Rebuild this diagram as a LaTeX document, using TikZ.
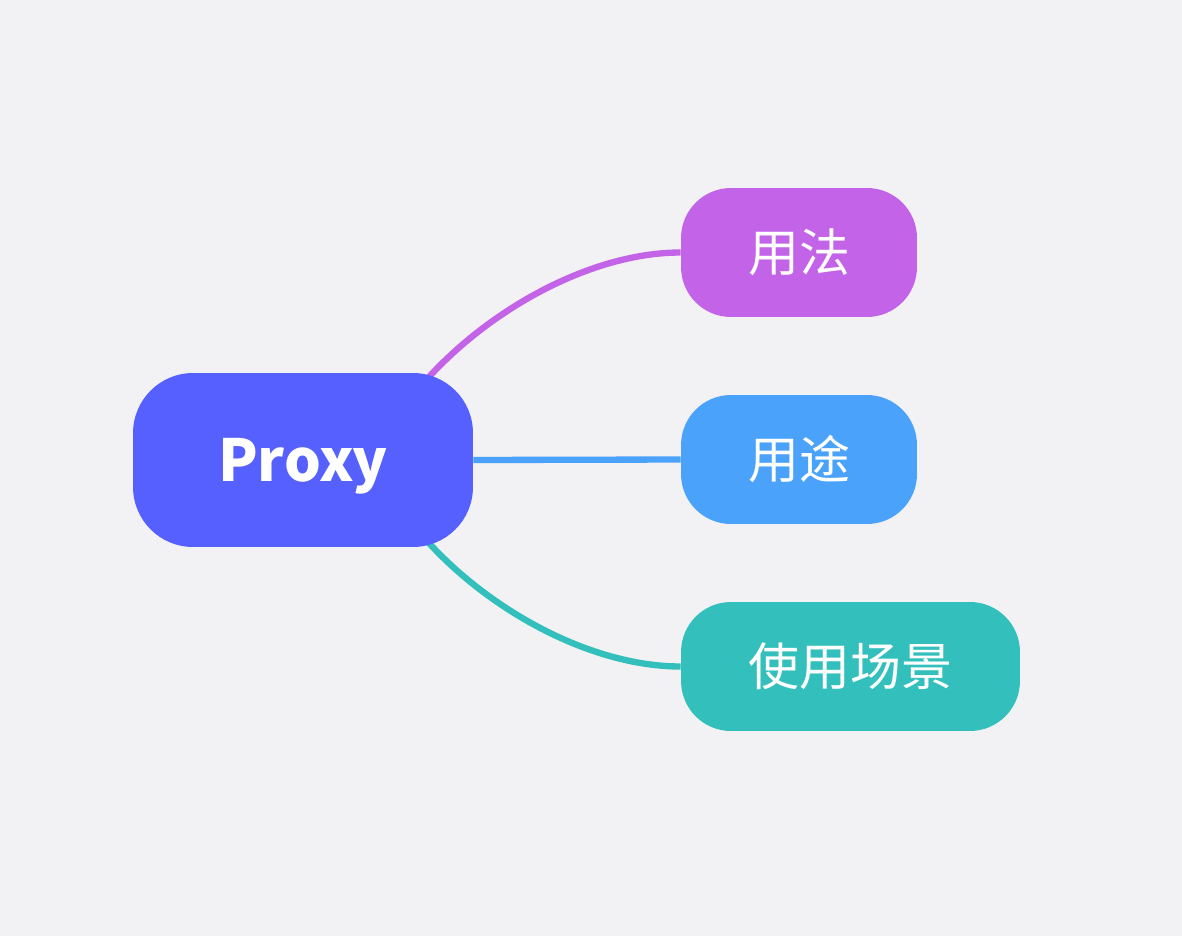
\documentclass[tikz,border=0pt]{standalone}
\usepackage{fontspec}
\setmainfont{Noto Sans CJK SC}
\definecolor{bgcol}{RGB}{242,242,244}
\definecolor{proxyblue}{RGB}{85,96,255}
\definecolor{usagepurple}{RGB}{195,100,232}
\definecolor{purposeblue}{RGB}{74,162,250}
\definecolor{sceneteal}{RGB}{51,192,188}
\pgfdeclarelayer{bg}
\pgfsetlayers{bg,main}
\begin{document}
\begin{tikzpicture}[x=0.02cm, y=-0.02cm,
  branch/.style={rounded corners=1cm, minimum height=2.58cm, inner sep=0pt, text=white, font=\fontsize{29}{30}\selectfont},
  link/.style={-, line width=3.6pt}]
\node[fill=proxyblue, rounded corners=1.2cm, minimum width=6.8cm, minimum height=3.48cm, inner sep=0pt, text depth=0pt, text=white, font=\fontsize{33}{33}\selectfont\bfseries] (proxy) at (303,460) {Proxy};
\node[branch, fill=usagepurple, minimum width=4.72cm] (yongfa) at (799,252.5) {用法};
\node[branch, fill=purposeblue, minimum width=4.72cm] (yongtu) at (799,459.5) {用途};
\node[branch, fill=sceneteal, minimum width=6.78cm] (changjing) at (850.5,666.5) {使用场景};
\begin{pgfonlayer}{bg}
\fill[bgcol] (0,0) rectangle (1182,936);
\path [link, draw=usagepurple, shorten <=-0.3cm] (proxy.34) edge[out=49, in=180, out looseness=0.75, in looseness=0.85] (yongfa.west);
\path [link, draw=purposeblue] (proxy.east) edge (yongtu.west);
\path [link, draw=sceneteal, shorten <=-0.3cm] (proxy.-34) edge[out=-49, in=180, out looseness=0.75, in looseness=0.85] (changjing.west);
\end{pgfonlayer}
\end{tikzpicture}
\end{document}
